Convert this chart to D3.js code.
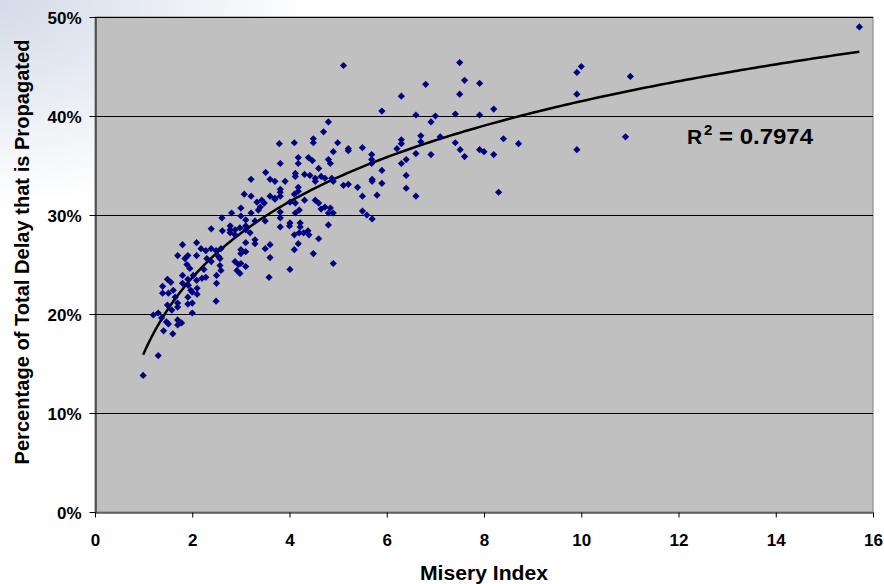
<!DOCTYPE html>
<html><head><meta charset="utf-8">
<script src="https://cdn.jsdelivr.net/npm/d3@7/dist/d3.min.js"></script>
<style>
html,body{margin:0;padding:0;background:#fff;}
svg{display:block;font-family:"Liberation Sans",Arial,sans-serif;font-weight:bold;}
</style></head>
<body>
<script>
// Misery index (x) and percentage of total delay propagated (y, %)
const miseryIndex = [
0.99,1.30,1.20,1.30,1.37,1.41,1.47,1.51,1.60,1.70,1.78,1.70,1.49,1.58,1.70,1.70,2.00,1.39,1.51,1.61,1.65,1.39,1.49,1.56,1.80,1.92,1.97,2.00,2.10,2.10,1.91,1.91,2.00,1.80,2.02,1.89,1.95,1.70,1.85,1.91,2.09,1.80,2.09,2.09,2.20,2.28,2.24,1.91,
2.18,2.28,2.39,2.49,2.59,2.30,2.39,2.57,2.39,2.62,2.59,2.50,2.49,2.50,2.61,2.54,2.57,
2.81,3.00,3.07,3.21,3.00,3.10,2.78,2.78,2.88,2.88,2.78,3.10,2.98,3.10,3.00,3.00,3.10,3.10,2.88,2.95,3.00,3.10,2.92,2.98,3.19,
3.21,3.51,3.60,3.70,3.91,3.81,3.79,3.81,3.81,3.70,3.60,3.33,3.43,3.48,3.70,3.81,3.36,3.21,3.29,3.50,3.81,3.81,3.81,3.29,3.29,3.50,3.60,3.60,3.58,4.01,3.40,
4.10,4.49,4.49,4.70,4.80,4.18,4.18,4.39,4.47,4.80,4.60,4.12,4.12,4.31,4.42,4.53,4.53,4.65,4.73,4.87,4.90,4.18,4.18,4.01,4.12,4.10,4.31,4.53,4.60,4.65,4.73,4.84,4.80,4.90,4.20,4.12,4.01,4.22,4.22,4.00,4.10,4.20,4.29,4.38,4.40,4.60,4.80,4.18,4.10,4.49,4.90,4.84,4.90,4.99,
5.11,7.50,7.60,7.91,6.80,7.50,6.30,5.90,6.60,7.00,6.91,7.41,7.91,8.20,5.21,5.21,5.50,5.69,5.69,5.69,5.90,6.30,6.30,6.21,6.30,6.40,6.40,6.40,6.60,6.60,6.70,6.70,6.91,7.10,7.41,7.51,7.60,7.91,8.00,8.20,8.40,8.71,8.30,5.11,5.21,5.40,5.50,5.70,5.70,5.80,5.90,5.50,5.59,5.70,
15.72,9.91,10.00,11.01,9.91,10.91,9.91
];
const pctPropagated = [
13.8,15.8,19.9,20.1,19.6,18.3,19.2,19.0,18.0,19.4,19.1,18.9,20.9,20.4,21.1,20.7,20.1,22.1,22.1,22.4,21.7,22.8,23.5,23.2,23.1,22.9,22.4,22.2,22.6,22.0,21.7,21.0,21.1,23.9,23.9,25.0,24.6,25.9,25.6,25.9,25.9,27.0,27.2,23.4,23.6,23.7,24.5,23.5,
26.6,26.4,26.6,26.4,26.6,25.6,25.3,25.6,28.6,28.4,24.4,23.9,21.3,23.1,29.7,25.8,24.9,
30.2,30.7,32.1,31.9,29.9,29.5,28.9,28.5,28.5,28.0,28.2,28.9,28.7,28.5,26.5,26.1,26.3,27.2,25.3,25.0,25.1,24.8,24.4,24.1,28.2,
33.6,34.3,33.6,33.4,33.4,35.2,37.2,32.6,32.3,31.7,31.9,31.3,31.5,31.2,31.6,31.9,30.5,30.2,29.4,29.4,29.7,28.8,30.3,27.5,27.1,26.6,25.7,27.0,23.7,24.5,30.8,
37.3,37.7,37.3,38.4,39.4,35.8,35.2,35.8,35.5,35.6,34.7,34.2,33.9,34.1,34.0,33.7,33.4,33.9,33.7,33.7,33.4,32.8,32.4,31.3,31.2,32.1,31.5,31.5,31.2,30.6,30.8,30.7,30.2,30.2,30.5,30.2,29.2,29.2,28.8,28.9,28.0,28.2,28.2,28.4,28.0,27.6,29.0,27.1,26.5,26.1,25.1,35.2,36.4,37.3,
45.1,45.4,43.6,43.3,43.2,42.2,42.0,40.5,40.1,40.0,39.4,40.2,40.1,40.7,36.7,36.5,36.8,36.1,35.6,35.2,34.5,37.6,37.2,36.7,35.2,35.6,34.0,32.7,36.2,31.9,38.0,37.4,36.1,37.9,37.3,36.6,35.9,36.6,36.4,36.1,37.7,37.2,32.3,33.0,33.1,32.8,31.9,33.6,33.4,32.0,33.2,30.4,30.0,29.6,
49.0,44.4,45.0,44.0,42.2,37.9,36.6
];
const xTicks = [0,2,4,6,8,10,12,14,16];
const yTicks = [0,10,20,30,40,50];
// logarithmic trendline y = a*ln(x) + b  (percent)
const trendA = 11.07, trendB = 16.0;
const r2Text = "0.7974";
const xTitle = "Misery Index";
const yTitle = "Percentage of Total Delay that is Propagated";

const W = 884, H = 584;
const svg = d3.select("body").append("svg").attr("width", W).attr("height", H);

const defs = svg.append("defs");
const rg = defs.append("radialGradient").attr("id","bg").attr("cx",0).attr("cy",0).attr("r",0.35)
  .attr("gradientUnits","objectBoundingBox");
rg.append("stop").attr("offset","0%").attr("stop-color","#d3dbe8");
rg.append("stop").attr("offset","100%").attr("stop-color","#ffffff");
svg.append("rect").attr("width",W).attr("height",H).attr("fill","url(#bg)");

const x = d3.scaleLinear().domain([0,16]).range([95,873]);
const y = d3.scaleLinear().domain([0,50]).range([512,17]);

// plot area
svg.append("rect").attr("x",x(0)).attr("y",y(50)).attr("width",x(16)-x(0)).attr("height",y(0)-y(50))
  .attr("fill","#c0c0c0").attr("stroke","#808080").attr("stroke-width",1);

// gridlines
svg.append("g").selectAll("line").data(yTicks.filter(d=>d>0)).join("line")
  .attr("x1",x(0)).attr("x2",x(16)).attr("y1",d=>Math.round(y(d))+0.5).attr("y2",d=>Math.round(y(d))+0.5)
  .attr("stroke","#000").attr("stroke-width",1);

const tickFont = sel => sel.attr("fill","#000").style("font-size","17px")
  .style("font-family","Liberation Sans, Arial, sans-serif").style("font-weight","bold");

// axes
const gx = svg.append("g").attr("transform",`translate(0,${Math.round(y(0))+0.5})`)
  .call(d3.axisBottom(x).tickValues(xTicks).tickSize(5).tickSizeOuter(0).tickFormat(d3.format("d")));
gx.select(".domain").attr("stroke","#000");
gx.selectAll(".tick line").attr("stroke","#000");
gx.selectAll(".tick text").attr("y",21).attr("dy","0.71em").call(tickFont);

const gy = svg.append("g").attr("transform",`translate(${Math.round(x(0))+0.5},0)`)
  .call(d3.axisLeft(y).tickValues(yTicks).tickSize(6).tickSizeOuter(0).tickFormat(d=>d+"%"));
gy.select(".domain").attr("stroke","#000");
gy.selectAll(".tick line").attr("stroke","#000");
gy.selectAll(".tick text").attr("x",-14).attr("dy","0.4em").call(tickFont);

// trendline
const xmin = d3.min(miseryIndex), xmax = d3.max(miseryIndex);
const samples = d3.range(0,201).map(i => xmin + (xmax-xmin)*i/200);
svg.append("path")
  .attr("d", d3.line().x(d=>x(d)).y(d=>y(trendA*Math.log(d)+trendB))(samples))
  .attr("fill","none").attr("stroke","#000").attr("stroke-width",2.5);

// points
const diamond = "M0,-3.6L3.6,0L0,3.6L-3.6,0Z";
svg.append("g").selectAll("path").data(d3.zip(miseryIndex,pctPropagated)).join("path")
  .attr("d",diamond).attr("transform",d=>`translate(${x(d[0])},${y(d[1])})`)
  .attr("fill","#000080");

// R^2 label
svg.append("text").attr("x",687).attr("y",144).style("font-size","21px").text("R");
svg.append("text").attr("x",704).attr("y",135).style("font-size","15px").text("2");
svg.append("text").attr("x",719).attr("y",144).style("font-size","21.5px")
  .attr("textLength",94).attr("lengthAdjust","spacingAndGlyphs").text("= " + r2Text);

// axis titles
svg.append("text").attr("x",484).attr("y",580).attr("text-anchor","middle").style("font-size","20px")
  .attr("textLength",128).attr("lengthAdjust","spacingAndGlyphs").text(xTitle);
svg.append("text").attr("transform","translate(28.5,252) rotate(-90)").attr("text-anchor","middle")
  .style("font-size","19.5px").attr("textLength",425).attr("lengthAdjust","spacingAndGlyphs").text(yTitle);
</script>
</body></html>
